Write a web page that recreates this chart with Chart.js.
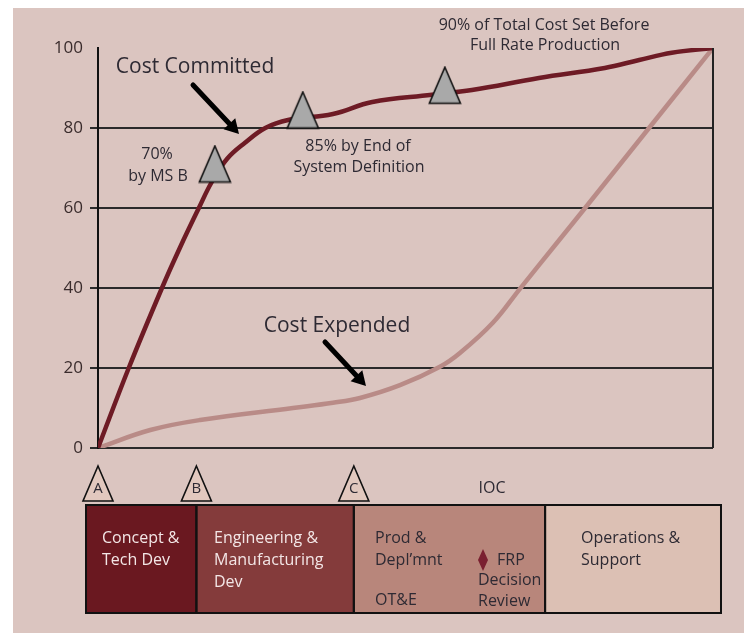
<!DOCTYPE html>
<html>
<head>
<meta charset="utf-8">
<script src="https://cdn.jsdelivr.net/npm/chart.js@4.4.1/dist/chart.umd.min.js"></script>
<style>
  html, body { margin: 0; padding: 0; background: #ffffff; }
  #wrap { position: absolute; left: 13px; top: 8px; width: 731px; height: 625px; background: #dbc5c0; }
</style>
</head>
<body>
<div id="wrap"><canvas id="myChart"></canvas></div>
<script>
// Datos de las curvas (x = tiempo del programa 0-100, y = % del costo total)
const committedX = [0, 5.0, 10.4, 13.3, 16.4, 18.5, 21.0, 23.9, 27.2, 30.9, 38.2, 44.6, 54.3, 60.8, 71.7, 82.4, 88.0, 93.3, 100];
const committedY = [0, 20, 40, 50, 60, 66.5, 72.3, 76.3, 80, 82, 83.5, 86.5, 88.3, 89.5, 92.5, 95, 97, 98.8, 100];

const expendedX = [0, 8.5, 16.6, 31.7, 38.2, 42.6, 49.1, 55.6, 58.9, 64.2, 68.6, 75.0, 79.2, 89.6, 100];
const expendedY = [0, 4.5, 7, 10, 11.3, 12.5, 15.7, 20.3, 23.8, 31.3, 39.8, 52, 60, 80, 100];

// Triangulos sobre la curva de costo comprometido
const markerX = [19.0, 33.3, 56.4];
const markerY = [71, 84.5, 90.7];

// Eje Y
const yTicks = [0, 20, 40, 60, 80, 100];

// Hitos y fases
const milestoneLabels = ["A", "B", "C"];
const milestoneX = [0, 16, 41.6];
const phaseEdges = [-1.95, 16, 41.6, 72.7, 101.3];
const phaseColors = ["#6a1820", "#843b3b", "#b8867b", "#dcc0b4"];

const FONT = "'Open Sans', 'Noto Sans', sans-serif";
const TEXT = "#2e2a33";

function toPoints(xs, ys) {
  return xs.map((x, i) => ({ x: x, y: ys[i] }));
}

// Imagen del triangulo gris
function triangleImage() {
  const c = document.createElement("canvas");
  c.width = 34;
  c.height = 39;
  const g = c.getContext("2d");
  g.beginPath();
  g.moveTo(17, 1.5);
  g.lineTo(32.5, 37.5);
  g.lineTo(1.5, 37.5);
  g.closePath();
  g.fillStyle = "#a9a9a9";
  g.fill();
  g.lineWidth = 1.6;
  g.strokeStyle = "#111";
  g.stroke();
  return c;
}

function arrow(ctx, x1, y1, x2, y2) {
  const ang = Math.atan2(y2 - y1, x2 - x1);
  const hl = 14, hw = 8;
  const bx = x2 - Math.cos(ang) * hl, by = y2 - Math.sin(ang) * hl;
  ctx.strokeStyle = "#000";
  ctx.lineWidth = 5;
  ctx.lineCap = "round";
  ctx.beginPath();
  ctx.moveTo(x1, y1);
  ctx.lineTo(bx, by);
  ctx.stroke();
  ctx.fillStyle = "#000";
  ctx.beginPath();
  ctx.moveTo(x2, y2);
  ctx.lineTo(bx + Math.sin(ang) * hw, by - Math.cos(ang) * hw);
  ctx.lineTo(bx - Math.sin(ang) * hw, by + Math.cos(ang) * hw);
  ctx.closePath();
  ctx.fill();
}

function texto(ctx, str, x, y, size, align, color) {
  ctx.font = size + "px " + FONT;
  ctx.textAlign = align || "center";
  ctx.textBaseline = "middle";
  ctx.fillStyle = color || TEXT;
  ctx.fillText(str, x, y);
}

// Plugin para anotaciones, hitos y fases
const extras = {
  id: "extras",
  afterDraw(chart) {
    const ctx = chart.ctx;
    const xs = chart.scales.x;
    const area = chart.chartArea;
    const px = (v) => xs.getPixelForValue(v);
    ctx.save();

    // borde derecho
    ctx.strokeStyle = "#222";
    ctx.lineWidth = 2;
    ctx.beginPath();
    ctx.moveTo(area.right, area.top);
    ctx.lineTo(area.right, area.bottom);
    ctx.stroke();

    // textos del grafico
    texto(ctx, "Cost Committed", 182, 59, 21);
    arrow(ctx, 180, 77, 226, 126);
    texto(ctx, "70%", 144, 146, 16);
    texto(ctx, "by MS B", 145, 168, 16);
    texto(ctx, "85% by End of", 345, 138, 16);
    texto(ctx, "System Definition", 346, 159, 16);
    texto(ctx, "90% of Total Cost Set Before", 531, 17, 16);
    texto(ctx, "Full Rate Production", 532, 37, 16);
    texto(ctx, "Cost Expended", 324, 318, 21);
    arrow(ctx, 312, 334, 353, 378);

    // triangulos de hitos
    const top = area.bottom + 18, base = area.bottom + 53;
    milestoneX.forEach((m, i) => {
      const cx = px(m);
      ctx.beginPath();
      ctx.moveTo(cx, top);
      ctx.lineTo(cx + 15, base);
      ctx.lineTo(cx - 15, base);
      ctx.closePath();
      ctx.fillStyle = "#e2c8be";
      ctx.fill();
      ctx.strokeStyle = "#111";
      ctx.lineWidth = 1.6;
      ctx.stroke();
      texto(ctx, milestoneLabels[i], cx, base - 12, 15);
    });
    texto(ctx, "IOC", 479, 480, 16);

    // cajas de fases
    const bTop = area.bottom + 57, bBot = area.bottom + 165;
    phaseColors.forEach((col, i) => {
      const x1 = px(phaseEdges[i]), x2 = px(phaseEdges[i + 1]);
      ctx.fillStyle = col;
      ctx.fillRect(x1, bTop, x2 - x1, bBot - bTop);
    });
    ctx.strokeStyle = "#111";
    ctx.lineWidth = 2;
    phaseColors.forEach((col, i) => {
      const x1 = px(phaseEdges[i]), x2 = px(phaseEdges[i + 1]);
      ctx.strokeRect(x1, bTop, x2 - x1, bBot - bTop);
    });

    const light = "#f3e6e6";
    const l1 = bTop + 33, l2 = bTop + 55, l3 = bTop + 77;
    texto(ctx, "Concept &", 89, l1, 16, "left", light);
    texto(ctx, "Tech Dev", 89, l2, 16, "left", light);
    texto(ctx, "Engineering &", 201, l1, 16, "left", light);
    texto(ctx, "Manufacturing", 201, l2, 16, "left", light);
    texto(ctx, "Dev", 201, l3, 16, "left", light);
    texto(ctx, "Prod &", 362, l1, 16, "left");
    texto(ctx, "Depl\u2019mnt", 362, l2, 16, "left");
    texto(ctx, "OT&E", 362, bTop + 95, 16, "left");
    texto(ctx, "FRP", 484, l2, 16, "left");
    texto(ctx, "Decision", 465, bTop + 75, 16, "left");
    texto(ctx, "Review", 465, bTop + 96, 16, "left");
    texto(ctx, "Operations &", 568, l1, 16, "left");
    texto(ctx, "Support", 568, l2, 16, "left");

    // rombo FRP
    ctx.fillStyle = "#7a2030";
    ctx.beginPath();
    ctx.moveTo(470, l2 - 11);
    ctx.lineTo(475, l2);
    ctx.lineTo(470, l2 + 11);
    ctx.lineTo(465, l2);
    ctx.closePath();
    ctx.fill();

    ctx.restore();
  }
};

const config = {
  type: "line",
  data: {
    datasets: [
      {
        label: "Hitos",
        data: toPoints(markerX, markerY),
        showLine: false,
        pointStyle: triangleImage(),
        pointRadius: 18,
      },
      {
        label: "Cost Committed",
        data: toPoints(committedX, committedY),
        borderColor: "#6e1b25",
        borderWidth: 4.5,
        pointRadius: 0,
        tension: 0.4,
      },
      {
        label: "Cost Expended",
        data: toPoints(expendedX, expendedY),
        borderColor: "#b98b87",
        borderWidth: 4.5,
        pointRadius: 0,
        tension: 0.4,
      },
    ],
  },
  options: {
    responsive: false,
    animation: false,
    layout: { padding: { left: 0, right: 31, top: 40, bottom: 185 } },
    plugins: { legend: { display: false }, tooltip: { enabled: false } },
    scales: {
      x: { type: "linear", min: 0, max: 100, display: false },
      y: {
        min: 0,
        max: 100,
        afterBuildTicks: (s) => { s.ticks = yTicks.map((v) => ({ value: v })); },
        afterFit: (s) => { s.width = 85; },
        border: { color: "#111", width: 2 },
        grid: {
          color: (c) => (c.tick && c.tick.value === 100 ? "rgba(0,0,0,0)" : "#2a2a2a"),
          lineWidth: 2,
          tickLength: 8,
        },
        ticks: {
          padding: 7,
          color: "#3a2c2c",
          font: { family: FONT, size: 17 },
        },
      },
    },
  },
  plugins: [extras],
};

const canvas = document.getElementById("myChart");
canvas.width = 731;
canvas.height = 625;
canvas.style.width = "731px";
canvas.style.height = "625px";
new Chart(canvas.getContext("2d"), config);
</script>
</body>
</html>
